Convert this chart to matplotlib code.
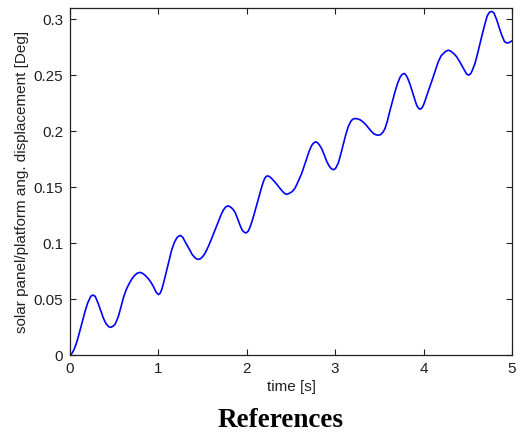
import matplotlib
matplotlib.use("Agg")
import matplotlib.pyplot as plt

# angular displacement of the solar panel / platform, sampled off the simulation trace
time_s = [
    0.0, 0.02, 0.045, 0.07, 0.094, 0.13, 0.17, 0.20, 0.235, 0.26,
    0.285, 0.32, 0.35, 0.377, 0.405, 0.435, 0.46,
    0.485, 0.51, 0.545, 0.575, 0.605, 0.635, 0.665, 0.70, 0.73, 0.76, 0.79,
    0.82, 0.85, 0.886, 0.915, 0.943, 0.975, 1.0,
    1.02, 1.04, 1.065, 1.094, 1.12, 1.15, 1.18, 1.207, 1.225, 1.25,
    1.275, 1.30, 1.33, 1.357, 1.38, 1.403, 1.425, 1.45,
    1.475, 1.50, 1.527, 1.565, 1.603, 1.64, 1.678, 1.71, 1.735, 1.76, 1.79,
    1.82, 1.845, 1.867, 1.895, 1.923, 1.945, 1.965, 1.99,
    2.015, 2.035, 2.055, 2.08, 2.11, 2.14, 2.168, 2.19, 2.21, 2.23,
    2.255, 2.28, 2.30, 2.34, 2.376, 2.40, 2.425, 2.45,
    2.475, 2.51, 2.545, 2.58, 2.621, 2.65, 2.678, 2.705, 2.734, 2.755, 2.78,
    2.805, 2.825, 2.847, 2.875, 2.904, 2.93, 2.955, 2.98,
    3.005, 3.035, 3.065, 3.092, 3.12, 3.15, 3.175, 3.195, 3.22,
    3.25, 3.285, 3.318, 3.35, 3.38, 3.413, 3.44, 3.465, 3.49,
    3.515, 3.54, 3.563, 3.59, 3.62, 3.65, 3.676, 3.705, 3.733, 3.755, 3.78,
    3.80, 3.82, 3.846, 3.875, 3.903, 3.925, 3.945, 3.96,
    3.98, 4.0, 4.016, 4.05, 4.092, 4.13, 4.166, 4.20, 4.25, 4.28,
    4.31, 4.345, 4.374, 4.41, 4.449, 4.485, 4.51,
    4.535, 4.555, 4.581, 4.61, 4.638, 4.665, 4.695, 4.72, 4.745, 4.77,
    4.795, 4.827, 4.855, 4.883, 4.915, 4.94, 4.965, 5.0,
]
displacement_deg = [
    0.0, 0.0012, 0.0048, 0.0100, 0.0164, 0.0270, 0.0390, 0.0465, 0.0525, 0.0536,
    0.0524, 0.0458, 0.0390, 0.0330, 0.0283, 0.0255, 0.0247,
    0.0256, 0.0275, 0.0340, 0.0425, 0.0515, 0.0582, 0.0632, 0.0680, 0.0710, 0.0731, 0.0738,
    0.0730, 0.0712, 0.0682, 0.0650, 0.0612, 0.0560, 0.0540,
    0.0552, 0.0590, 0.0665, 0.0759, 0.0845, 0.0938, 0.1005, 0.1045, 0.1060, 0.1068,
    0.1052, 0.1015, 0.0973, 0.0935, 0.0900, 0.0878, 0.0862, 0.0854,
    0.0860, 0.0878, 0.0908, 0.0970, 0.1042, 0.1115, 0.1190, 0.1255, 0.1295, 0.1322, 0.1333,
    0.1320, 0.1300, 0.1275, 0.1220, 0.1160, 0.1120, 0.1100, 0.1090,
    0.1105, 0.1140, 0.1185, 0.1250, 0.1335, 0.1420, 0.1500, 0.1555, 0.1588, 0.1600,
    0.1595, 0.1578, 0.1560, 0.1525, 0.1488, 0.1465, 0.1445, 0.1435,
    0.1442, 0.1458, 0.1490, 0.1548, 0.1622, 0.1690, 0.1756, 0.1820, 0.1872, 0.1893, 0.1905,
    0.1893, 0.1872, 0.1843, 0.1790, 0.1730, 0.1690, 0.1665, 0.1655,
    0.1668, 0.1715, 0.1800, 0.1885, 0.1970, 0.2045, 0.2085, 0.2104, 0.2113,
    0.2110, 0.2100, 0.2080, 0.2055, 0.2025, 0.1995, 0.1975, 0.1966, 0.1964,
    0.1970, 0.1990, 0.2022, 0.2090, 0.2185, 0.2275, 0.2350, 0.2425, 0.2480, 0.2505, 0.2515,
    0.2502, 0.2472, 0.2420, 0.2345, 0.2275, 0.2225, 0.2203, 0.2196,
    0.2205, 0.2235, 0.2270, 0.2350, 0.2445, 0.2535, 0.2620, 0.2675, 0.2713, 0.2723,
    0.2713, 0.2690, 0.2664, 0.2618, 0.2563, 0.2512, 0.2500,
    0.2515, 0.2550, 0.2604, 0.2690, 0.2782, 0.2870, 0.2961, 0.3030, 0.3062, 0.3070,
    0.3057, 0.2995, 0.2925, 0.2860, 0.2800, 0.2788, 0.2790, 0.2806,
]
x_ticks = [0, 1, 2, 3, 4, 5]
y_ticks = [0, 0.05, 0.1, 0.15, 0.2, 0.25, 0.3]
y_tick_labels = ["0", "0.05", "0.1", "0.15", "0.2", "0.25", "0.3"]

plt.rcParams["font.family"] = ["Liberation Sans", "DejaVu Sans"]

fig = plt.figure(figsize=(5.21, 4.32), dpi=100)
ax = fig.add_axes([0.1344, 0.1782, 0.8483, 0.8033])

ax.plot(time_s, displacement_deg, color="#0000ff", lw=1.2)

ax.set_xlim(0, 5)
ax.set_ylim(0, 0.31)
ax.set_xticks(x_ticks)
ax.set_yticks(y_ticks)
ax.set_yticklabels(y_tick_labels)
ax.tick_params(direction="in", length=4, width=0.8, top=True, right=True,
               labelsize=11, colors="#202020", pad=5)
for spine in ax.spines.values():
    spine.set_linewidth(0.9)
    spine.set_color("#202020")

ax.set_xlabel("time [s]", fontsize=11, color="#202020", labelpad=3)
ax.set_ylabel("solar panel/platform ang. displacement [Deg]", fontsize=11,
              color="#202020", labelpad=3)

fig.text(0.538, 0.012, "References", family="Liberation Serif",
         fontweight="bold", fontsize=19.5, ha="center", va="baseline")

fig.savefig("out.png", dpi=100)
